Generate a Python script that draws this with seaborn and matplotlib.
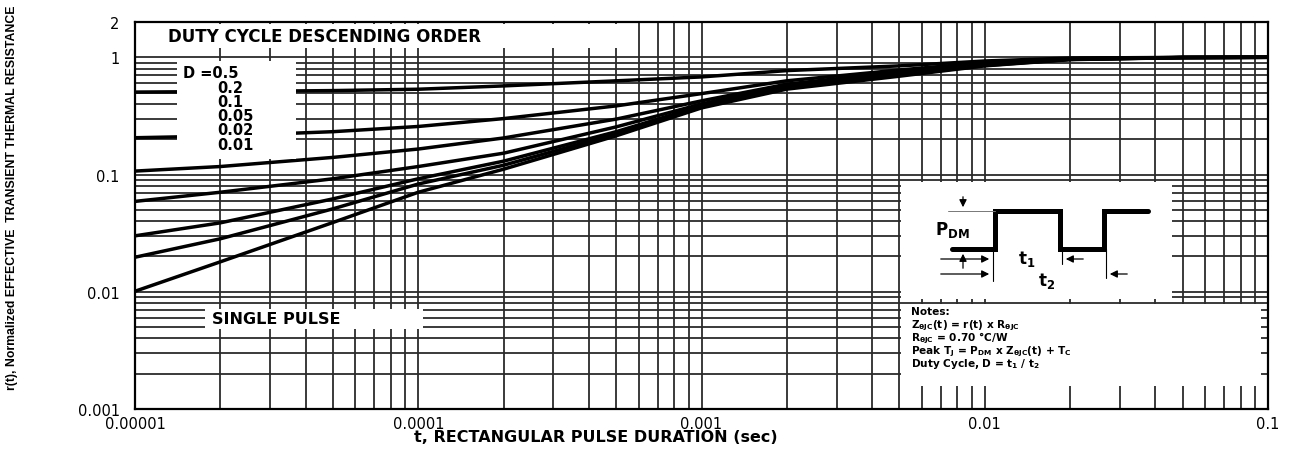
import matplotlib
matplotlib.use("Agg")
import matplotlib.pyplot as plt
from matplotlib.patches import Rectangle
from matplotlib.ticker import FixedLocator, FixedFormatter, LogLocator, NullFormatter
import seaborn as sns
import pandas as pd
import numpy as np

t_sec = [1e-5, 2e-5, 5e-5, 1e-4, 2e-4, 5e-4, 1e-3, 2e-3, 5e-3, 1e-2, 2e-2, 5e-2, 1e-1]

# normalized transient thermal resistance r(t), one list per duty cycle
r_d050 = [0.505, 0.51, 0.52, 0.534, 0.57, 0.63, 0.68, 0.77, 0.845, 0.93, 0.985, 0.998, 1.0]
r_d020 = [0.206, 0.213, 0.232, 0.257, 0.30, 0.385, 0.49, 0.63, 0.78, 0.90, 0.975, 0.997, 1.0]
r_d010 = [0.107, 0.117, 0.14, 0.165, 0.205, 0.297, 0.425, 0.59, 0.75, 0.885, 0.97, 0.996, 1.0]
r_d005 = [0.059, 0.0706, 0.092, 0.117, 0.152, 0.255, 0.40, 0.57, 0.73, 0.87, 0.965, 0.995, 1.0]
r_d002 = [0.030, 0.0387, 0.062, 0.092, 0.13, 0.232, 0.385, 0.555, 0.715, 0.86, 0.96, 0.995, 1.0]
r_d001 = [0.0197, 0.0283, 0.051, 0.083, 0.12, 0.222, 0.378, 0.545, 0.705, 0.85, 0.96, 0.994, 1.0]
r_single = [0.0101, 0.018, 0.039, 0.0706, 0.111, 0.214, 0.37, 0.535, 0.69, 0.845, 0.955, 0.994, 1.0]

duty_names = ["0.5", "0.2", "0.1", "0.05", "0.02", "0.01", "single"]
legend_values = ["0.2", "0.1", "0.05", "0.02", "0.01"]

x_ticks = [1e-5, 1e-4, 1e-3, 1e-2, 1e-1]
x_tick_labels = ["0.00001", "0.0001", "0.001", "0.01", "0.1"]
y_ticks = [0.001, 0.01, 0.1, 1, 2]
y_tick_labels = ["0.001", "0.01", "0.1", "1", "2"]

curves = [r_d050, r_d020, r_d010, r_d005, r_d002, r_d001, r_single]
df = pd.concat([pd.DataFrame({"t": t_sec, "r": r, "D": name})
                for name, r in zip(duty_names, curves)], ignore_index=True)

sns.set_style("white")
plt.rcParams["font.family"] = ["DejaVu Sans"]
plt.rcParams["text.color"] = "black"

W, H = 1294, 460
fig = plt.figure(figsize=(W / 100, H / 100), dpi=100)
ax = fig.add_axes([135 / W, 50 / H, 1133 / W, 387 / H])
ax.set_xscale("log")
ax.set_yscale("log")

sns.lineplot(data=df, x="t", y="r", hue="D", hue_order=duty_names,
             palette=["black"] * len(duty_names), linewidth=2.5,
             estimator=None, legend=False, ax=ax, zorder=3)

ax.set_xlim(1e-5, 0.1)
ax.set_ylim(0.001, 2)
ax.xaxis.set_major_locator(FixedLocator(x_ticks))
ax.xaxis.set_major_formatter(FixedFormatter(x_tick_labels))
ax.yaxis.set_major_locator(FixedLocator(y_ticks))
ax.yaxis.set_major_formatter(FixedFormatter(y_tick_labels))
for a in (ax.xaxis, ax.yaxis):
    a.set_minor_locator(LogLocator(base=10, subs=np.arange(2, 10), numticks=100))
    a.set_minor_formatter(NullFormatter())
ax.grid(which="both", color="#2b2b2b", linewidth=1.3, zorder=1)
ax.set_axisbelow(True)
ax.tick_params(which="minor", length=0)
ax.tick_params(which="major", width=1.3, direction="out", labelsize=10.5,
               colors="black")
ax.tick_params(axis="x", which="major", length=3, pad=2)
ax.tick_params(axis="y", which="major", length=7, pad=4)
ax.set_xlabel("")
ax.set_ylabel("")
for s in ax.spines.values():
    s.set_color("black")
    s.set_linewidth(1.6)

# overlay in pixel units for the boxes, labels and pulse sketch
ov = fig.add_axes([0, 0, 1, 1])
ov.set_xlim(0, W)
ov.set_ylim(H, 0)
ov.axis("off")
ov.patch.set_alpha(0)

def white_box(x0, y0, x1, y1):
    ov.add_patch(Rectangle((x0, y0), x1 - x0, y1 - y0, facecolor="white",
                           edgecolor="none", zorder=2))

white_box(137, 25, 618, 49)
white_box(177, 62, 296, 160)
white_box(205, 310, 423, 330)
white_box(901, 183, 1172, 300)
white_box(901, 305, 1261, 387)

bold = dict(fontweight="bold", color="black", zorder=5)
ov.text(168, 37, "DUTY CYCLE DESCENDING ORDER", fontsize=12, va="center", **bold)
ov.text(183, 74, "D =0.5", fontsize=10.5, va="center", **bold)
ov.text(217, 81, "\n".join(legend_values), fontsize=10.5, va="top",
        linespacing=0.93, **bold)
ov.text(212, 320, "SINGLE PULSE", fontsize=11.5, va="center", **bold)

notes = ["Notes:",
         r"Z$_{\mathbf{\theta JC}}$(t) = r(t) x R$_{\mathbf{\theta JC}}$",
         r"R$_{\mathbf{\theta JC}}$ = 0.70 °C/W",
         r"Peak T$_{\mathbf{J}}$ = P$_{\mathbf{DM}}$ x Z$_{\mathbf{\theta JC}}$(t) + T$_{\mathbf{C}}$",
         r"Duty Cycle, D = t$_{\mathbf{1}}$ / t$_{\mathbf{2}}$"]
for i, line in enumerate(notes):
    ov.text(911, 315 + 13 * i, line, fontsize=7.6, va="baseline", **bold)

# pulse sketch
ov.plot([952, 995, 995, 1060, 1060, 1104, 1104, 1148],
        [250, 250, 212, 212, 250, 250, 212, 212],
        color="black", lw=3.6, solid_joinstyle="miter", zorder=4)
ov.plot([948, 995], [212, 212], color="#777777", lw=0.7, zorder=4)
for x, y_end in ((993, 282), (1062, 265), (1106, 279)):
    ov.plot([x, x], [250, y_end], color="black", lw=0.8, zorder=4)
arrow = dict(arrowstyle="-|>", color="black", lw=0.9, mutation_scale=11)
ov.annotate("", xy=(963, 211), xytext=(963, 195), arrowprops=arrow, zorder=4)
ov.annotate("", xy=(963, 252), xytext=(963, 272), arrowprops=arrow, zorder=4)
ov.annotate("", xy=(992, 260), xytext=(938, 260), arrowprops=arrow, zorder=4)
ov.annotate("", xy=(1063, 260), xytext=(1086, 260), arrowprops=arrow, zorder=4)
ov.annotate("", xy=(992, 275), xytext=(938, 275), arrowprops=arrow, zorder=4)
ov.annotate("", xy=(1107, 275), xytext=(1130, 275), arrowprops=arrow, zorder=4)
ov.text(935, 230, r"P$_{\mathbf{DM}}$", fontsize=12, va="center", **bold)
ov.text(1018, 259, r"t$_{\mathbf{1}}$", fontsize=12, va="center", **bold)
ov.text(1038, 281, r"t$_{\mathbf{2}}$", fontsize=12, va="center", **bold)

ov.text(12, 198, "r(t), Normalized EFFECTIVE  TRANSIENT THERMAL RESISTANCE",
        rotation=90, ha="center", va="center", fontsize=8.8, fontweight="bold",
        family=["Liberation Sans"], color="black")
ov.text(596, 438, "t, RECTANGULAR PULSE DURATION (sec)", ha="center",
        va="center", fontsize=11.5, fontweight="bold", color="black")

fig.savefig("out.png", dpi=100)
